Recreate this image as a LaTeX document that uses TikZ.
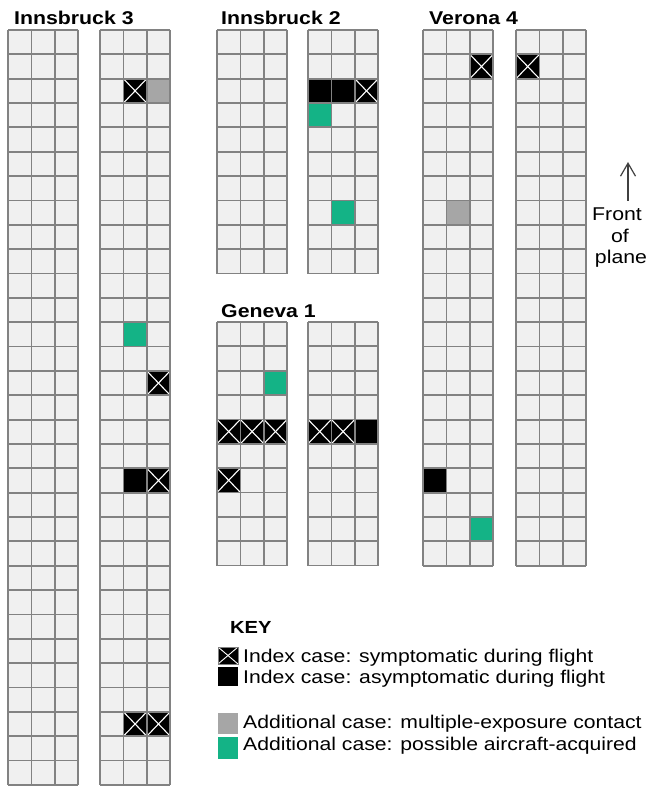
\documentclass[tikz,border=0pt]{standalone}
\usepackage{fontspec}
\setmainfont{Liberation Sans}
\newfontfamily\plainfont[FakeStretch=1.15]{Liberation Sans}
\newfontfamily\boldfont[FakeStretch=1.15]{Liberation Sans Bold}
\usetikzlibrary{arrows.meta}
\definecolor{seatbg}{RGB}{240,240,240}
\definecolor{gridgray}{RGB}{130,130,130}
\definecolor{casegreen}{RGB}{20,179,134}
\definecolor{casegray}{RGB}{166,166,166}
\def\cw{23.4}
\def\ch{24.35}
\newcommand\seatblock[3]{%
  \fill[seatbg] (#1,#2) rectangle ++({3*\cw},{#3*\ch});
}
\newcommand\seatlines[3]{%
  \foreach \i in {0,...,3} {\draw[gridline] ({#1+\i*\cw},#2) -- ++(0,{#3*\ch});}
  \foreach \j in {0,...,#3} {\draw[gridline] (#1,{#2+\j*\ch}) -- ++({3*\cw},0);}
}
\newcommand\seatfill[5]{%
  \fill[#5] ({#1+(#3-1)*\cw},{#2+(#4-1)*\ch}) rectangle ++(\cw,\ch);
}
\newcommand\seatx[4]{%
  \fill[black] ({#1+(#3-1)*\cw},{#2+(#4-1)*\ch}) rectangle ++(\cw,\ch);
  \draw[crossline] ({#1+(#3-1)*\cw},{#2+(#4-1)*\ch}) -- ++(\cw,\ch);
  \draw[crossline] ({#1+(#3)*\cw},{#2+(#4-1)*\ch}) -- ++(-\cw,\ch);
}
\tikzset{
  gridline/.style={draw=gridgray, line width=1.8pt},
  crossline/.style={draw=white, line width=1.1pt},
  title/.style={anchor=base west, inner sep=0pt, font=\boldfont\fontsize{18.5}{20}\selectfont},
  keytext/.style={anchor=base west, inner sep=0pt, font=\plainfont\fontsize{18.4}{20}\selectfont},
  fronttext/.style={anchor=base, inner sep=0pt, font=\plainfont\fontsize{18.5}{20}\selectfont},
}
\begin{document}
\begin{tikzpicture}[x=1pt,y=-1pt]
\useasboundingbox (0,0) rectangle (646,786);
\fill[white] (0,0) rectangle (646,786);

% backgrounds
\seatblock{8}{30}{31}
\seatblock{100}{30}{31}
\seatblock{217}{30}{10}
\seatblock{308}{30}{10}
\seatblock{423}{30}{22}
\seatblock{516}{30}{22}
\seatblock{217}{322}{10}
\seatblock{308}{322}{10}

% Innsbruck 3
\seatx{100}{30}{2}{3}
\seatfill{100}{30}{3}{3}{casegray}
\seatfill{100}{30}{2}{13}{casegreen}
\seatx{100}{30}{3}{15}
\seatfill{100}{30}{2}{19}{black}
\seatx{100}{30}{3}{19}
\seatx{100}{30}{2}{29}
\seatx{100}{30}{3}{29}

% Innsbruck 2
\seatfill{308}{30}{1}{3}{black}
\seatfill{308}{30}{2}{3}{black}
\seatx{308}{30}{3}{3}
\seatfill{308}{30}{1}{4}{casegreen}
\seatfill{308}{30}{2}{8}{casegreen}

% Verona 4
\seatx{423}{30}{3}{2}
\seatfill{423}{30}{2}{8}{casegray}
\seatfill{423}{30}{1}{19}{black}
\seatfill{423}{30}{3}{21}{casegreen}
\seatx{516}{30}{1}{2}

% Geneva 1
\seatfill{217}{322}{3}{3}{casegreen}
\seatx{217}{322}{1}{5}
\seatx{217}{322}{2}{5}
\seatx{217}{322}{3}{5}
\seatx{217}{322}{1}{7}
\seatx{308}{322}{1}{5}
\seatx{308}{322}{2}{5}
\seatfill{308}{322}{3}{5}{black}

% grid lines
\seatlines{8}{30}{31}
\seatlines{100}{30}{31}
\seatlines{217}{30}{10}
\seatlines{308}{30}{10}
\seatlines{423}{30}{22}
\seatlines{516}{30}{22}
\seatlines{217}{322}{10}
\seatlines{308}{322}{10}

% titles
\node[title] (t3) at (14,25) {Innsbruck 3};
\node[title] (t2) at (221,25) {Innsbruck 2};
\node[title] (t4) at (429,25) {Verona 4};
\node[title] (t1) at (221,317) {Geneva 1};

% front of plane
\coordinate (arrowlow) at (628,201);
\coordinate (arrowhigh) at (628,162);
\draw[draw=black!75, line width=1.2pt, -{Straight Barb[length=13pt,width=15pt]}] (arrowlow) -- (arrowhigh);
\node[fronttext] (front) at (617,221) {Front};
\node[fronttext] (of) at (620,243) {of};
\node[fronttext] (plane) at (621,263) {plane};

% key
\node[title, font=\boldfont\fontsize{17.5}{20}\selectfont] (key) at (230,633) {KEY};
\fill[black] (218,647) rectangle (238,664);
\draw[crossline, line width=0.9pt] (218,647) -- (238,664);
\draw[crossline, line width=0.9pt] (238,647) -- (218,664);
\draw[gridgray, line width=0.8pt] (218,647) rectangle (238,664);
\fill[black] (218,667) rectangle (238,686);
\fill[casegray] (218,713) rectangle (238,734);
\fill[casegreen] (218,737) rectangle (238,759);
\node[keytext] (k1) at (243,662) {Index case: symptomatic during flight};
\node[keytext] (k2) at (243,683) {Index case: asymptomatic during flight};
\node[keytext] (k3) at (243,728) {Additional case: multiple-exposure contact};
\node[keytext] (k4) at (243,750) {Additional case: possible aircraft-acquired};
\end{tikzpicture}
\end{document}
